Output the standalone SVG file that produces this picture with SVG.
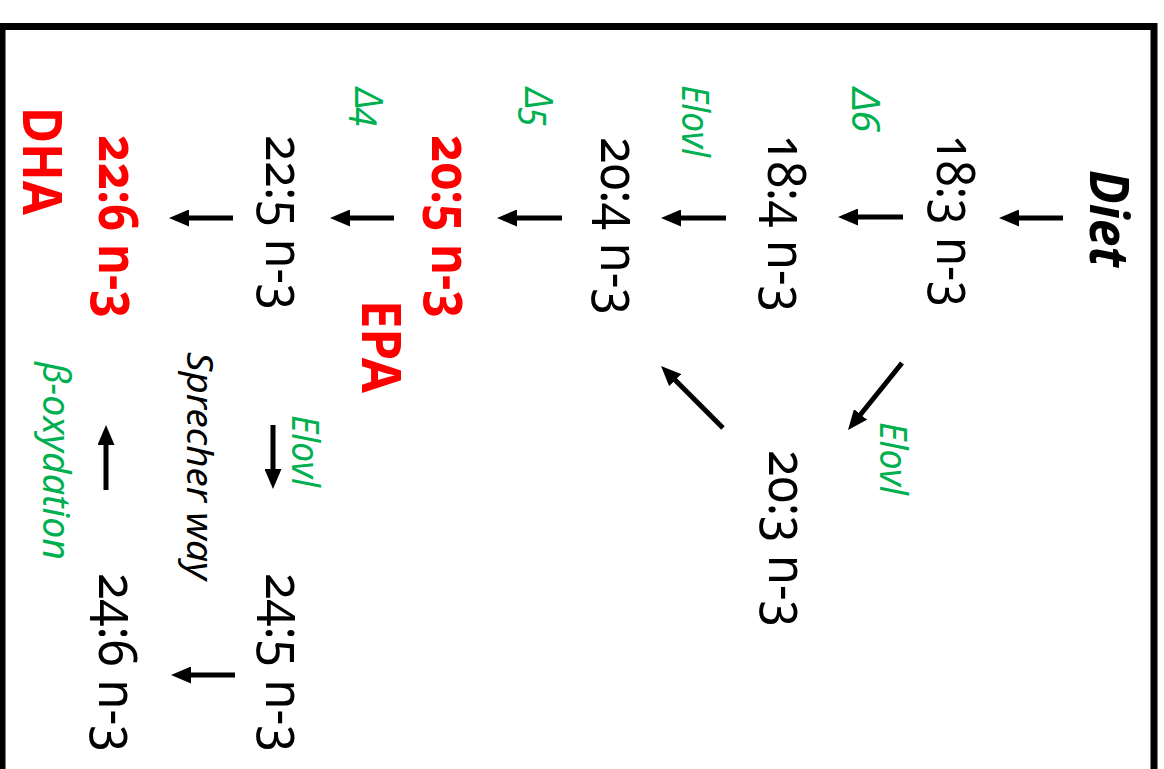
<svg xmlns="http://www.w3.org/2000/svg" width="1164" height="769" viewBox="0 0 1164 769">
<style>
text{font-family:"Noto Sans","Open Sans","DejaVu Sans",sans-serif;font-variant-numeric:oldstyle-nums;font-feature-settings:"onum" 1}
.fa{font-size:53px;fill:#000}
.red{font-size:53px;fill:#FF0000;font-weight:bold}
.lbl{font-size:38px;fill:#00B050;font-style:italic}
.it{font-size:37px;fill:#000;font-style:italic}
.diet{font-size:53px;fill:#000;font-weight:bold;font-style:italic}
.arr{stroke:#000;stroke-width:5;fill:none;marker-end:url(#ah)}
</style>
<defs>
<marker id="ah" markerUnits="strokeWidth" markerWidth="4" markerHeight="3.4" refX="2" refY="1.7" orient="auto">
<path d="M0,0 L4,1.7 L0,3.4 z" fill="#000"/>
</marker>
</defs>
<rect x="2" y="26.5" width="1152" height="800" fill="#fff" stroke="#000" stroke-width="7"/>
<g id="connectors">
<path class="arr" d="M1063,218 L1009,218"/>
<path class="arr" d="M903,217 L848,217"/>
<path class="arr" d="M726,218 L671,218"/>
<path class="arr" d="M562,218 L507,218"/>
<path class="arr" d="M394,218 L340,218"/>
<path class="arr" d="M233,218 L179,218"/>
<path class="arr" d="M235,675 L181,675"/>
<path class="arr" d="M273,425 L273,479"/>
<path class="arr" d="M106,490 L106,435"/>
<path class="arr" d="M902,363 L854.3,422.2"/>
<path class="arr" d="M723,428 L668.1,373.1"/>
</g>
<g id="diet"><text class="diet" transform="translate(1090,170) rotate(90)" textLength="97" lengthAdjust="spacingAndGlyphs">Diet</text></g>
<g id="n18_3"><text class="fa" transform="translate(937,135) rotate(90)" textLength="172" lengthAdjust="spacingAndGlyphs">18:3 n-3</text></g>
<g id="n18_4"><text class="fa" transform="translate(768,135) rotate(90)" textLength="177" lengthAdjust="spacingAndGlyphs">18:4 n-3</text></g>
<g id="n20_4"><text class="fa" transform="translate(601,137) rotate(90)" textLength="178" lengthAdjust="spacingAndGlyphs">20:4 n-3</text></g>
<g id="n20_3"><text class="fa" transform="translate(769,450) rotate(90)" textLength="177" lengthAdjust="spacingAndGlyphs">20:3 n-3</text></g>
<g id="n20_5"><text class="red" transform="translate(432,135) rotate(90)" textLength="183" lengthAdjust="spacingAndGlyphs">20:5 n-3</text></g>
<g id="epa"><text class="red" transform="translate(362,300) rotate(90)" textLength="93" lengthAdjust="spacingAndGlyphs">EPA</text></g>
<g id="n22_5"><text class="fa" transform="translate(266,135) rotate(90)" textLength="175" lengthAdjust="spacingAndGlyphs">22:5 n-3</text></g>
<g id="n22_6"><text class="red" transform="translate(99,135) rotate(90)" textLength="183" lengthAdjust="spacingAndGlyphs">22:6 n-3</text></g>
<g id="dha"><text class="red" transform="translate(23,107) rotate(90)" textLength="108" lengthAdjust="spacingAndGlyphs">DHA</text></g>
<g id="n24_5"><text class="fa" transform="translate(266,573) rotate(90)" textLength="179" lengthAdjust="spacingAndGlyphs">24:5 n-3</text></g>
<g id="n24_6"><text class="fa" transform="translate(99,573) rotate(90)" textLength="179" lengthAdjust="spacingAndGlyphs">24:6 n-3</text></g>
<g id="sprecher"><text class="it" transform="translate(187,352) rotate(90)" textLength="228" lengthAdjust="spacingAndGlyphs">Sprecher way</text></g>
<g id="boxydation"><text class="lbl" transform="translate(43,362) rotate(90)" textLength="198" lengthAdjust="spacingAndGlyphs">β-oxydation</text></g>
<g id="elovl1"><text class="lbl" transform="translate(682,85) rotate(90)" textLength="72" lengthAdjust="spacingAndGlyphs">Elovl</text></g>
<g id="elovl2"><text class="lbl" transform="translate(880,422) rotate(90)" textLength="73" lengthAdjust="spacingAndGlyphs">Elovl</text></g>
<g id="elovl3"><text class="lbl" transform="translate(292,415) rotate(90)" textLength="72" lengthAdjust="spacingAndGlyphs">Elovl</text></g>
<g id="d6"><text class="lbl" transform="translate(852,88) rotate(90)" textLength="44" lengthAdjust="spacingAndGlyphs">Δ6</text></g>
<g id="d5"><text class="lbl" transform="translate(525,88) rotate(90)" textLength="39" lengthAdjust="spacingAndGlyphs">Δ5</text></g>
<g id="d4"><text class="lbl" transform="translate(355,88) rotate(90)" textLength="39" lengthAdjust="spacingAndGlyphs">Δ4</text></g>
</svg>
